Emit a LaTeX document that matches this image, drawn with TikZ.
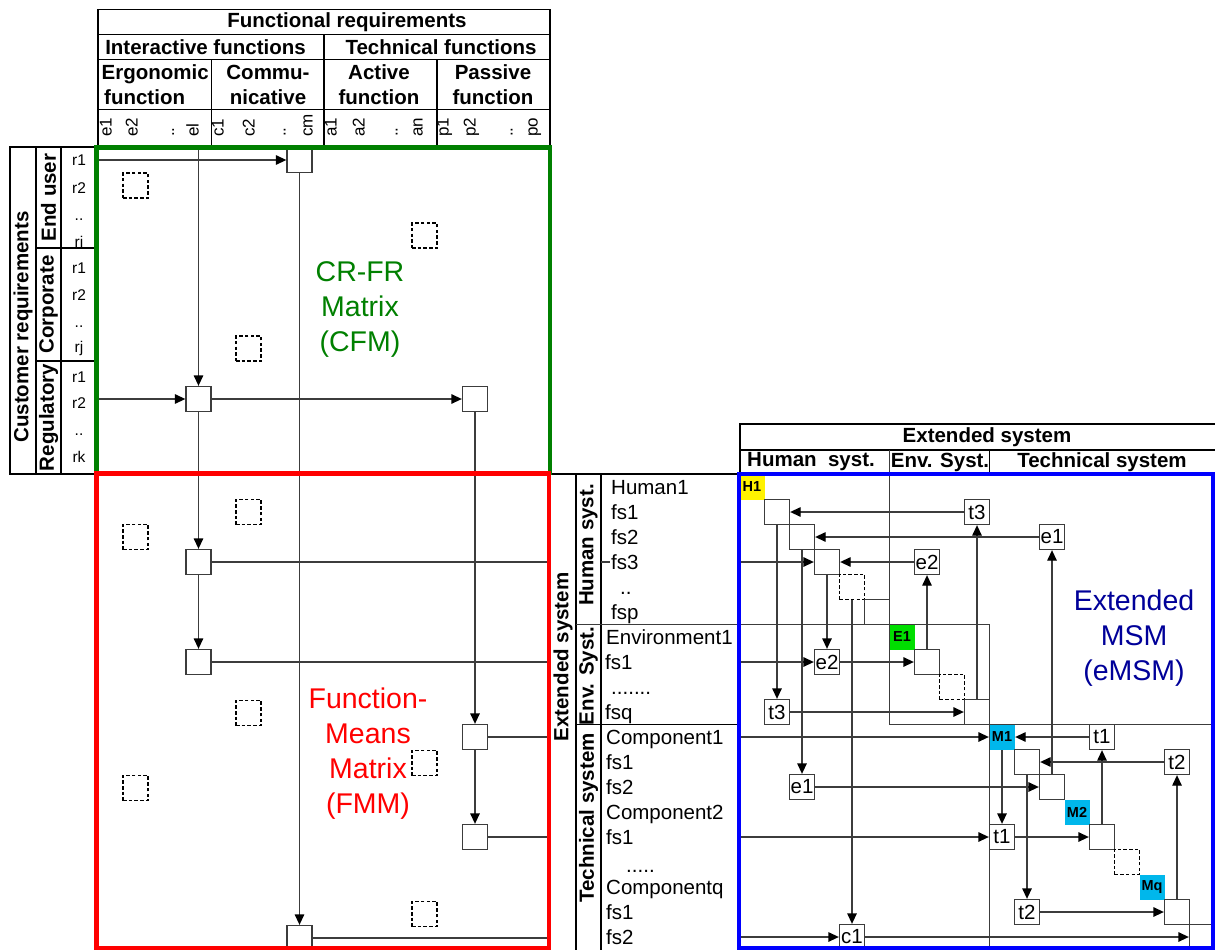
\documentclass[tikz,border=0pt]{standalone}
\usepackage{fontspec}
\setmainfont{Liberation Sans}
\usetikzlibrary{arrows.meta}
\definecolor{cfmgreen}{RGB}{0,128,0}
\definecolor{emsmblue}{RGB}{0,0,153}
\definecolor{ccyan}{RGB}{0,183,235}
\definecolor{egreen}{RGB}{0,222,0}
\definecolor{lgray}{RGB}{60,60,60}
\begin{document}
\begin{tikzpicture}[x=1pt,y=-1pt,
 tbl/.style={draw=black,line width=1.2pt},
 ln/.style={draw=lgray,line width=1.3pt},
 arr/.style={draw=lgray,line width=1.3pt,-{Triangle[length=10.5pt,width=9.5pt,color=black]}},
 hdr/.style={font=\fontsize{20.5}{25}\selectfont\bfseries,inner sep=0,align=center},
 lab/.style={font=\fontsize{20.5}{24}\selectfont,inner sep=0,anchor=base west},
 rlab/.style={font=\fontsize{15.5}{18}\selectfont,inner sep=0,anchor=base},
 clab/.style={font=\fontsize{17}{18}\selectfont,inner sep=0,rotate=90,anchor=mid west},
 box/.style={draw=lgray,line width=1.3pt,fill=white,minimum size=25pt,inner sep=0,font=\fontsize{20.5}{24}\selectfont},
 dbox/.style={box,draw=black,line width=1.3pt,dash pattern=on 3.5pt off 2.2pt},
 mbox/.style={box,draw=none,font=\fontsize{14.5}{16}\selectfont\bfseries},
 big/.style={align=center,inner sep=0,font=\fontsize{28.5}{35}\selectfont}]
\useasboundingbox (0,0) rectangle (1215,950);
\fill[white] (0,0) rectangle (1215,950);

% ---------- Functional requirements header ----------
\draw[tbl] (98,9.5) rectangle (550,147);
\draw[tbl] (98,34.5) -- (550,34.5) (98,59.5) -- (550,59.5) (98,109.5) -- (550,109.5);
\draw[tbl] (324,34.5) -- (324,147) (211.5,59.5) -- (211.5,147) (437,59.5) -- (437,147);
\node[hdr] (fr) at (347,22) {Functional requirements};
\node[hdr] (intf) at (205.5,47) {Interactive functions};
\node[hdr] (tecf) at (441,47) {Technical functions};
\node[hdr,align=left,anchor=west] (ergo) at (101.5,85) {Ergonomic\\\hspace*{2.5pt}function};
\node[hdr] (comm) at (268,85) {Commu-\\nicative};
\node[hdr] (acti) at (379,85) {Active\\function};
\node[hdr] (pass) at (493,85) {Passive\\function};
\foreach \t/\xx [count=\i] in {e1/109,e2/135,../171.5,el/196,c1/221,c2/252,../283,cm/310,a1/334,a2/362,../395,an/420,p1/446,p2/473,../510,po/535}
  \node[clab] (cl\i) at (\xx,137) {\t};

% ---------- Customer requirements ----------
\draw[tbl] (10,147) rectangle (97,474);
\draw[tbl] (36,147) -- (36,474) (61,147) -- (61,474) (36,248) -- (97,248) (36,361) -- (97,361);
\node[hdr,rotate=90] (cr) at (23,327) {Customer requirements};
\node[hdr,rotate=90] (eu) at (48.5,197.5) {End user};
\node[hdr,rotate=90] (co) at (48.5,304.5) {Corporate};
\node[hdr,rotate=90] (re) at (48.5,417.5) {Regulatory};
\foreach \t/\yy [count=\i] in {r1/165,r2/193,../220,ri/247,r1/273,r2/300,../327,rj/352,r1/382,r2/408,../435,rk/462}
  \node[rlab] (rl\i) at (79,\yy) {\t};

% ---------- CFM / FMM boxes ----------
\node[box] (T) at (299.5,160) {};
\node[box] (P) at (198.5,399) {};
\node[box] (Q) at (475,399) {};
\node[box] (A) at (198.5,562) {};
\node[box] (B) at (198.5,662) {};
\node[box] (C) at (475,737) {};
\node[box] (D) at (475,837) {};
\node[box] (E) at (299.5,938) {};
\node[dbox] (x1) at (135.5,185.5) {};
\node[dbox] (x2) at (424.5,235.5) {};
\node[dbox] (x3) at (248.5,348.5) {};
\node[dbox] (x4) at (135.5,537) {};
\node[dbox] (x5) at (248.5,512) {};
\node[dbox] (x6) at (248.5,713) {};
\node[dbox] (x7) at (424.5,763) {};
\node[dbox] (x8) at (135.5,788) {};
\node[dbox] (x9) at (424.5,914) {};

\coordinate (gtop) at (198.5,148);
\coordinate (r1in) at (98,160);
\coordinate (r2in) at (98,399);
\coordinate (aout) at (549,562);
\coordinate (bout) at (549,662);
\coordinate (cout) at (549,737);
\coordinate (dout) at (549,837);
\coordinate (eout) at (549,938);
\draw[arr] (gtop) -- (P);
\draw[arr] (r1in) -- (T);
\draw[arr] (r2in) -- (P);
\draw[arr] (P) -- (Q);
\draw[arr] (T) -- (E);
\draw[arr] (P) -- (A);
\draw[arr] (A) -- (B);
\draw[arr] (Q) -- (C);
\draw[arr] (C) -- (D);
\draw[ln] (A) -- (aout);
\draw[ln] (B) -- (bout);
\draw[ln] (C) -- (cout);
\draw[ln] (D) -- (dout);
\draw[ln] (E) -- (eout);

\node[big,text=cfmgreen] (cfm) at (360,309) {CR-FR\\Matrix\\(CFM)};
\node[big,text=red] (fmm) at (368,754) {Function-\\Means\\Matrix\\(FMM)};

% ---------- eMSM header and label table ----------
\draw[tbl] (740,424) rectangle (1216,473);
\draw[tbl] (740,450) -- (1216,450) (989.5,450) -- (989.5,473);
\node[hdr] (es) at (987,437) {Extended system};
\node[hdr] (hs) at (811,462) {Human\ \ syst.};
\node[hdr] (ens) at (940,462) {Env. Syst.};
\node[hdr] (ts) at (1102,462) {Technical system};

\draw[tbl] (549,474) -- (740,474);
\draw[tbl] (576,474) -- (576,951) (601,474) -- (601,951);
\draw[tbl] (576,724.5) -- (740,724.5);
\draw[ln] (576,624.5) -- (989.5,624.5);
\draw[ln] (889.5,450) -- (889.5,724.5) -- (1216,724.5);
\draw[ln] (989.5,624.5) -- (989.5,951);

\node[hdr,rotate=90] (exs) at (563,657) {Extended system};
\node[hdr,rotate=90] (hus) at (588.5,545) {Human syst.};
\node[hdr,rotate=90] (evs) at (588.5,676) {Env. Syst.};
\node[hdr,rotate=90] (tcs) at (588.5,818) {Technical system};

\node[lab] (l0) at (611,494) {Human1};
\node[lab] (l1) at (611,519) {fs1};
\node[lab] (l2) at (611,544) {fs2};
\node[lab] (l3) at (611,569) {fs3};
\node[lab] (l4) at (620,594) {..};
\node[lab] (l5) at (611,619) {fsp};
\node[lab] (l6) at (606,644) {Environment1};
\node[lab] (l7) at (605,669) {fs1};
\node[lab] (l8) at (611,694.5) {.......};
\node[lab] (l9) at (605,719) {fsq};
\node[lab] (l10) at (606,744) {Component1};
\node[lab] (l11) at (606,769) {fs1};
\node[lab] (l12) at (606,794) {fs2};
\node[lab] (l13) at (606,819) {Component2};
\node[lab] (l14) at (606,844) {fs1};
\node[lab] (l15) at (626,872) {.....};
\node[lab] (l16) at (606,894) {Componentq};
\node[lab] (l17) at (606,919) {fs1};
\node[lab] (l18) at (606,944) {fs2};

% ---------- eMSM diagonal ----------
\node[mbox,fill=yellow] (d0) at (752,487) {H1};
\node[box] (d1) at (777,512) {};
\node[box] (d2) at (802,537) {};
\node[box] (d3) at (827,562) {};
\node[dbox] (d4) at (852,587) {};
\node[box] (d5) at (877,612) {};
\node[mbox,fill=egreen] (d6) at (902,637) {E1};
\node[box] (d7) at (927,662) {};
\node[dbox] (d8) at (952,687) {};
\node[box] (d9) at (977,712) {};
\node[mbox,fill=ccyan] (d10) at (1002,737) {M1};
\node[box] (d11) at (1027,762) {};
\node[box] (d12) at (1052,787) {};
\node[mbox,fill=ccyan] (d13) at (1077,812) {M2};
\node[box] (d14) at (1102,837) {};
\node[dbox] (d15) at (1127,862) {};
\node[mbox,fill=ccyan] (d16) at (1152,887) {Mq};
\node[box] (d17) at (1177,912) {};
\node[box] (d18) at (1202,937) {};

% off-diagonal
\node[box] (ot3a) at (977,512) {t3};
\node[box] (oe1a) at (1052,537) {e1};
\node[box] (oe2a) at (927,562) {e2};
\node[box] (oe2b) at (827,662) {e2};
\node[box] (ot3b) at (777,712) {t3};
\node[box] (ot1a) at (1102,737) {t1};
\node[box] (ot2a) at (1177,762) {t2};
\node[box] (oe1b) at (802,787) {e1};
\node[box] (ot1b) at (1002,837) {t1};
\node[box] (ot2b) at (1027,912) {t2};
\node[box] (oc1) at (852,937) {c1};

\coordinate (in3) at (741,562);
\coordinate (in7) at (741,662);
\coordinate (in10) at (741,737);
\coordinate (in14) at (741,837);
\coordinate (in18) at (741,937);
\coordinate (tickA) at (601,562);
\coordinate (tickB) at (610,562);
\draw[ln] (tickA) -- (tickB);

\draw[arr] (ot3a) -- (d1);
\draw[arr] (d9) -- (ot3a);
\draw[arr] (oe1a) -- (d2);
\draw[arr] (d12) -- (oe1a);
\draw[arr] (oe2a) -- (d3);
\draw[arr] (d7) -- (oe2a);
\draw[arr] (in3) -- (d3);
\draw[arr] (d3) -- (oe2b);
\draw[arr] (in7) -- (oe2b);
\draw[arr] (oe2b) -- (d7);
\draw[arr] (d1) -- (ot3b);
\draw[arr] (ot3b) -- (d9);
\draw[arr] (in10) -- (d10);
\draw[arr] (ot1a) -- (d10);
\draw[arr] (d14) -- (ot1a);
\draw[arr] (ot2a) -- (d11);
\draw[arr] (d17) -- (ot2a);
\draw[arr] (d2) -- (oe1b);
\draw[arr] (oe1b) -- (d12);
\draw[arr] (d10) -- (ot1b);
\draw[arr] (in14) -- (ot1b);
\draw[arr] (ot1b) -- (d14);
\draw[arr] (d11) -- (ot2b);
\draw[arr] (ot2b) -- (d17);
\draw[arr] (d4) -- (oc1);
\draw[arr] (in18) -- (oc1);
\draw[arr] (oc1) -- (d18);

\node[big,text=emsmblue] (emsm) at (1134,638) {Extended\\MSM\\(eMSM)};

% ---------- frames ----------
\draw[cfmgreen,line width=4.5pt] (96.7,147.5) rectangle (550,473);
\draw[red,line width=4.5pt] (96.5,473.5) rectangle (549,948);
\draw[blue,line width=4.5pt] (739,474) rectangle (1213,948);
\end{tikzpicture}
\end{document}
